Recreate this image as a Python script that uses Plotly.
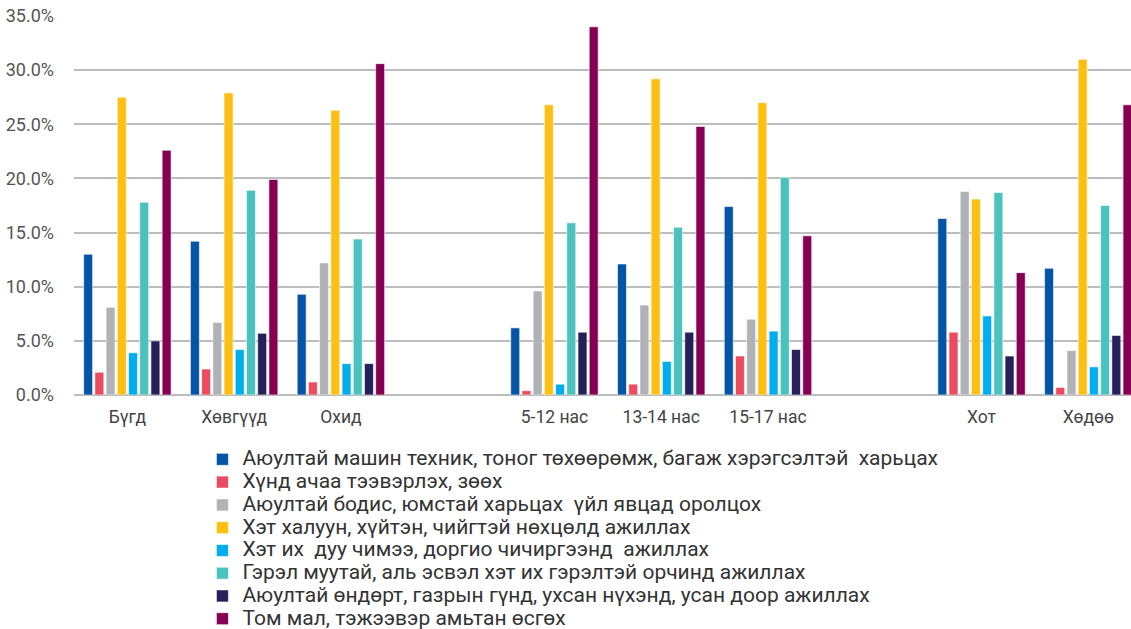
import plotly.graph_objects as go

categories = ["Бүгд", "Хөвгүүд", "Охид", " ", "5-12 нас", "13-14 нас", "15-17 нас", "  ", "Хот", "Хөдөө"]

series_names = [
    "Аюултай машин техник, тоног төхөөрөмж, багаж хэрэгсэлтэй  харьцах",
    "Хүнд ачаа тээвэрлэх, зөөх",
    "Аюултай бодис, юмстай харьцах  үйл явцад оролцох",
    "Хэт халуун, хүйтэн, чийгтэй нөхцөлд ажиллах",
    "Хэт их  дуу чимээ, доргио чичиргээнд  ажиллах",
    "Гэрэл муутай, аль эсвэл хэт их гэрэлтэй орчинд ажиллах",
    "Аюултай өндөрт, газрын гүнд, ухсан нүхэнд, усан доор ажиллах",
    "Том мал, тэжээвэр амьтан өсгөх",
]

machinery = [13.0, 14.2, 9.3, None, 6.2, 12.1, 17.4, None, 16.3, 11.7]
heavy_load = [2.1, 2.4, 1.2, None, 0.4, 1.0, 3.6, None, 5.8, 0.7]
hazardous = [8.1, 6.7, 12.2, None, 9.6, 8.3, 7.0, None, 18.8, 4.1]
temperature = [27.5, 27.9, 26.3, None, 26.8, 29.2, 27.0, None, 18.1, 31.0]
noise = [3.9, 4.2, 2.9, None, 1.0, 3.1, 5.9, None, 7.3, 2.6]
lighting = [17.8, 18.9, 14.4, None, 15.9, 15.5, 20.1, None, 18.7, 17.5]
heights = [5.0, 5.7, 2.9, None, 5.8, 5.8, 4.2, None, 3.6, 5.5]
livestock = [22.6, 19.9, 30.6, None, 34.0, 24.8, 14.7, None, 11.3, 26.8]

series_values = [machinery, heavy_load, hazardous, temperature, noise, lighting, heights, livestock]
colors = ["#0455A6", "#EB4C60", "#B1B2B5", "#FDBF12", "#00AEEF", "#4BC2BE", "#252059", "#850052"]

y_tickvals = [0, 5, 10, 15, 20, 25, 30, 35]
y_ticktext = ["0.0%", "5.0%", "10.0%", "15.0%", "20.0%", "25.0%", "30.0%", "35.0%"]

fig = go.Figure()
for name, vals, col in zip(series_names, series_values, colors):
    fig.add_trace(go.Bar(
        x=categories, y=vals,
        name='<span style="font-size:21px">' + name + '</span>',
        marker=dict(color=col, line=dict(color="white", width=0.6)),
    ))

fig.update_layout(
    width=1131, height=629,
    margin=dict(l=74, r=0, t=16, b=234, autoexpand=False),
    paper_bgcolor="white", plot_bgcolor="white",
    barmode="group", bargap=0.16, bargroupgap=0.2,
    font=dict(family="Roboto", color="#444444"),
    showlegend=True,
    legend=dict(
        x=0.1215, y=-0.1266, xanchor="left", yanchor="top",
        orientation="v", font=dict(size=15.2, color="#333333", family="Roboto"),
        itemwidth=30, bgcolor="rgba(0,0,0,0)",
    ),
    xaxis=dict(
        type="category", categoryorder="array", categoryarray=categories,
        range=[-0.5, 9.4], showgrid=False, showline=False, ticks="",
        tickfont=dict(size=17.5, color="#444444"), ticklabelstandoff=9,
    ),
    yaxis=dict(
        range=[0, 35], tickvals=y_tickvals, ticktext=y_ticktext,
        showgrid=True, gridcolor="#BDBDC0", gridwidth=1.5,
        zeroline=True, zerolinecolor="#BDBDC0", zerolinewidth=1.5,
        showline=False, ticks="", tickfont=dict(size=18, color="#555555"),
        ticklabelstandoff=19, ticklabeloverflow="allow",
    ),
)

fig.write_html(
    "out.html",
    config={"displayModeBar": False},
    post_script="document.body.style.margin='0';",
)
